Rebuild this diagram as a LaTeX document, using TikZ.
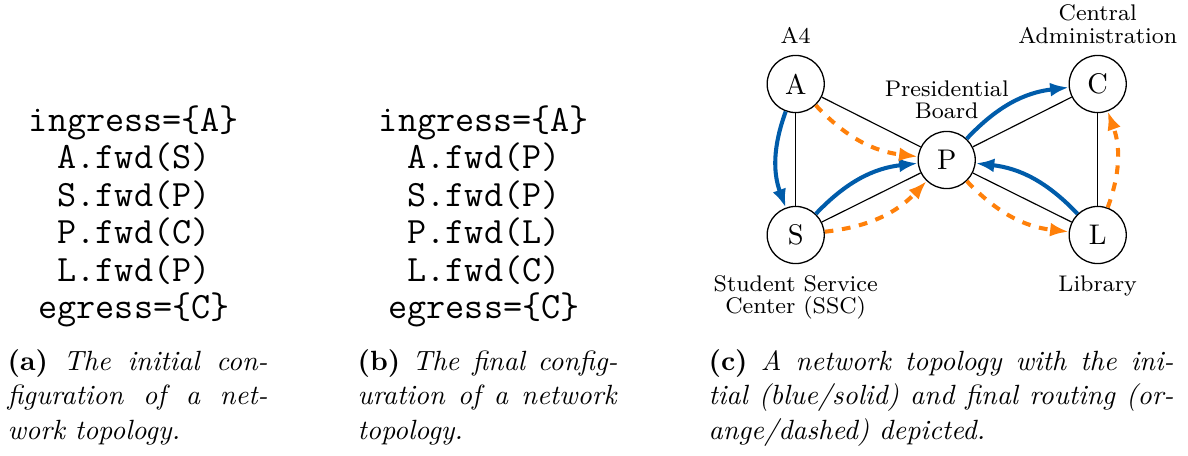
\documentclass[tikz,border=0pt]{standalone}
\usetikzlibrary{arrows.meta}
\definecolor{routeblue}{RGB}{0,92,170}
\definecolor{routeorange}{RGB}{255,128,10}
\begin{document}
\begin{tikzpicture}[x=0.345pt,y=-0.345pt,
  router/.style={circle,draw,line width=0.45pt,minimum size=19.7pt,inner sep=0pt,
    font=\fontsize{9.8}{11}\selectfont},
  link/.style={line width=0.4pt},
  tipshape/.style={-{Latex[length=6.4pt,width=4.8pt]}},
  initial/.style={routeblue,line width=1.4pt,tipshape},
  final/.style={routeorange,line width=1.4pt,dashed,tipshape},
  place/.style={font=\fontsize{7.8}{7.8}\selectfont,anchor=base,inner sep=0pt},
  code/.style={font=\fontsize{12.8}{13}\selectfont\ttfamily,anchor=base,inner sep=0pt},
  captext/.style={font=\fontsize{9.6}{11.9}\selectfont,anchor=base west,inner sep=0pt},
]
\useasboundingbox (0,0) rectangle (1188,455);

% configuration listings
\foreach \t [count=\i from 0] in {ingress=\{A\},A.fwd(S),S.fwd(P),P.fwd(C),L.fwd(P),egress=\{C\}}
  \node[code] (initcfg\i) at (134,131+37.5*\i) {\t};
\foreach \t [count=\i from 0] in {ingress=\{A\},A.fwd(P),S.fwd(P),P.fwd(L),L.fwd(C),egress=\{C\}}
  \node[code] (finalcfg\i) at (484,131+37.5*\i) {\t};

% routers
\node[router] (A) at (795.7,84)   {A};
\node[router] (S) at (795.7,235)  {S};
\node[router] (P) at (946.7,160)  {P};
\node[router] (C) at (1097.7,84)  {C};
\node[router] (L) at (1097.7,235) {L};

% router names
\node[place] (nameA)  at (795.7,43.3)  {A4};
\node[place] (nameC1) at (1097.7,20.7) {Central};
\node[place] (nameC2) at (1097.7,43.3) {Administration};
\node[place] (nameP1) at (946.7,96)    {Presidential};
\node[place] (nameP2) at (946.7,118.5) {Board};
\node[place] (nameS1) at (795.7,291)   {Student Service};
\node[place] (nameS2) at (795.7,313.5) {Center (SSC)};
\node[place] (nameL)  at (1097.7,291.7){Library};

% physical links
\draw[link] (A) -- (S);
\draw[link] (A) -- (P);
\draw[link] (S) -- (P);
\draw[link] (P) -- (C);
\draw[link] (P) -- (L);
\draw[link] (C) -- (L);

% initial routing
\draw[initial] (A) to[bend right=20] (S);
\draw[initial] (S) to[bend left=20] (P);
\draw[initial] (P) to[bend left=20] (C);
\draw[initial] (L) to[bend right=20] (P);

% final routing
\draw[final] (A) to[bend right=20] (P);
\draw[final] (S) to[bend right=20] (P);
\draw[final] (P) to[bend right=20] (L);
\draw[final] (L) to[bend right=20] (C);

% captions
\node[captext] (capa1) at (7,370)   {\makebox[89.7pt][s]{\textbf{(a)} \textit{The initial con-}}};
\node[captext] (capa2) at (7,404.5) {\makebox[89.7pt][s]{\textit{figuration of a net-}}};
\node[captext] (capa3) at (7,439)   {\textit{work topology.}};
\node[captext] (capb1) at (357,370)   {\makebox[89.7pt][s]{\textbf{(b)} \textit{The final config-}}};
\node[captext] (capb2) at (357,404.5) {\makebox[89.7pt][s]{\textit{uration of a network}}};
\node[captext] (capb3) at (357,439)   {\textit{topology.}};
\node[captext] (capc1) at (708,370)   {\makebox[160.4pt][s]{\textbf{(c)} \textit{A network topology with the ini-}}};
\node[captext] (capc2) at (708,404.5) {\makebox[160.4pt][s]{\textit{tial (blue/solid) and final routing (or-}}};
\node[captext] (capc3) at (708,439)   {\textit{ange/dashed) depicted.}};
\end{tikzpicture}
\end{document}
